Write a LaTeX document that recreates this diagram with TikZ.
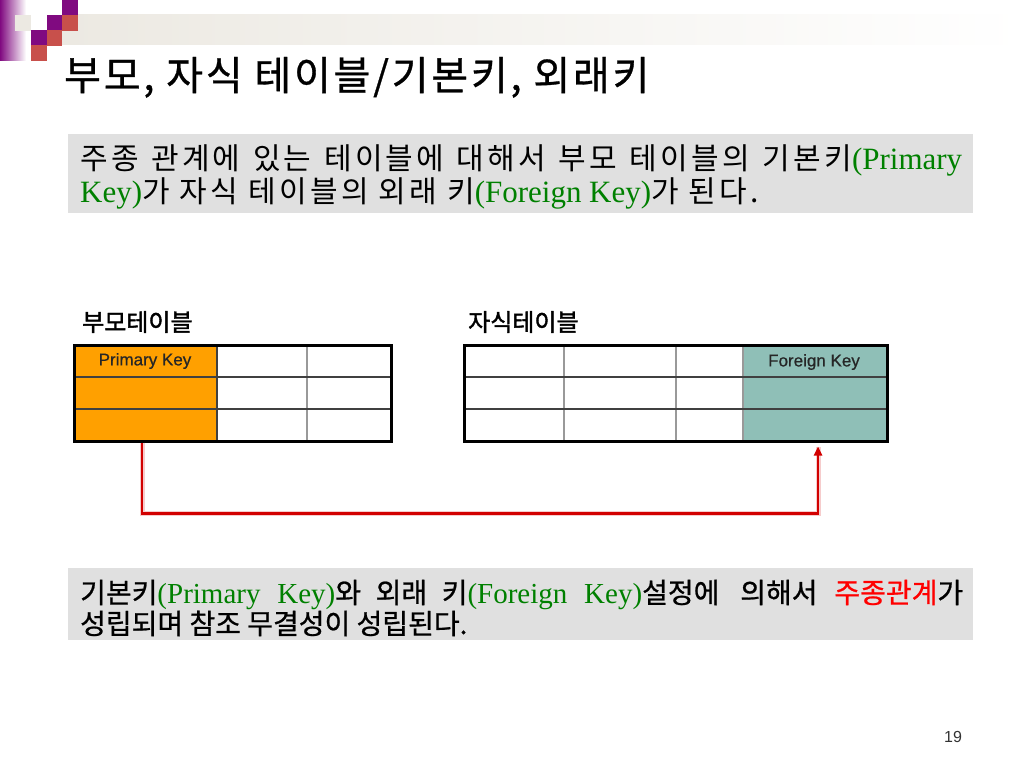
\documentclass[tikz,border=0pt]{standalone}
\usepackage{fontspec}
\setmainfont{Liberation Serif}
\newfontfamily\kr[LetterSpace=11]{Noto Sans CJK KR}
\newfontfamily\krm[FakeBold=0.8]{Noto Sans CJK KR}
\newfontfamily\krl[FakeBold=1.6]{Noto Sans CJK KR}
\newfontfamily\krt[LetterSpace=7,FakeBold=0.8]{Noto Sans CJK KR}
\newfontfamily\arialf{Liberation Sans}
\newfontfamily\arialb[FakeBold=0.6]{Liberation Sans}
\usetikzlibrary{arrows.meta}
\definecolor{decpurple}{RGB}{128,10,128}
\definecolor{decred}{RGB}{200,80,75}
\definecolor{decbeige}{RGB}{236,233,226}
\definecolor{boxgray}{RGB}{224,224,224}
\definecolor{tgreen}{RGB}{0,128,0}
\definecolor{tred}{RGB}{255,0,0}
\definecolor{pkorange}{RGB}{255,160,0}
\definecolor{fkteal}{RGB}{143,191,183}
\definecolor{linkred}{RGB}{210,0,0}
\definecolor{halo}{RGB}{240,170,170}
\newcommand\K[1]{{\kr\fontsize{30}{30}\selectfont #1}}
\newcommand\KB[1]{{\krm\fontsize{28}{28}\selectfont #1}}
\newcommand\G[1]{\textcolor{tgreen}{#1}}
\tikzset{
  textbox/.style={fill=boxgray, draw=none},
  outerline/.style={draw=black, line width=2.5pt},
  innerline/.style={draw=black!75, line width=1.2pt},
  vline/.style={draw=black!40, line width=1.8pt},
  tlabel/.style={anchor=base west, inner sep=0pt, font=\krl\fontsize{24}{24}\selectfont},
  celltext/.style={inner sep=0pt, font=\arialb\fontsize{17}{17}\selectfont, text=black!85},
  link/.style={draw=linkred, line width=2.6pt},
  linkhalo/.style={draw=halo, line width=5pt},
  sq/.style={minimum size=15.5pt, inner sep=0pt, draw=none}
}
\begin{document}
\begin{tikzpicture}[x=1pt,y=-1pt]
\useasboundingbox (0,0) rectangle (1024,768);
\fill[white] (0,0) rectangle (1024,768);
% top decoration
\shade[left color=decpurple, right color=white] (0,0) rectangle (26,60);
\shade[left color=decbeige, middle color=decbeige!60!white, right color=white] (62,15) rectangle (1024,45);
\node[sq, fill=decbeige, anchor=north west] (s0) at (15,15) {};
\node[sq, fill=decpurple, anchor=north west] (s1) at (62,0) {};
\node[sq, fill=decpurple, anchor=north west] (s2) at (46.5,15) {};
\node[sq, fill=decred, anchor=north west] (s3) at (62,15) {};
\node[sq, fill=decpurple, anchor=north west] (s4) at (31,30) {};
\node[sq, fill=decred, anchor=north west] (s5) at (46.5,30) {};
\node[sq, fill=decred, anchor=north west] (s6) at (31,45) {};
% title
\node[anchor=base west, inner sep=0pt, font=\krt\fontsize{40}{40}\selectfont] (title) at (64,90) {부모, 자식 테이블/기본키, 외래키};
% box 1
\fill[textbox] (68,134) rectangle (973,213);
\node[anchor=base west, inner sep=0pt, font=\fontsize{31}{31}\selectfont] (b1l1) at (80,169)
 {\makebox[882pt][s]{\K{주종 관계에 있는 테이블에 대해서 부모 테이블의 기본키}\G{(Primary}}};
\node[anchor=base west, inner sep=0pt, font=\fontsize{31}{31}\selectfont] (b1l2) at (80,202)
 {\G{Key)}\K{가 자식 테이블의 외래 키}\G{(Foreign Key)}\K{가 된다.}};
% parent table
\node[tlabel] (plabel) at (82,331) {부모테이블};
\fill[pkorange] (73,344) rectangle (217,440);
\fill[white] (217,344) rectangle (390,440);
\draw[vline] (307,344) -- (307,440);
\draw[innerline] (73,377) -- (390,377);
\draw[innerline] (73,409) -- (390,409);
\draw[innerline] (217,344) -- (217,440);
\node[outerline, minimum width=317pt, minimum height=96pt, inner sep=0pt, anchor=north west] (ptab) at (73,344) {};
\node[celltext] (pk) at (145,361) {Primary Key};
% child table
\node[tlabel] (clabel) at (468,331) {자식테이블};
\fill[white] (463,344) rectangle (743,440);
\fill[fkteal] (743,344) rectangle (886,440);
\draw[vline] (564,344) -- (564,440);
\draw[vline] (676,344) -- (676,440);
\draw[vline] (743,344) -- (743,440);
\draw[innerline] (463,377) -- (886,377);
\draw[innerline] (463,409) -- (886,409);
\node[outerline, minimum width=423pt, minimum height=96pt, inner sep=0pt, anchor=north west] (ctab) at (463,344) {};
\node[celltext] (fk) at (814,362) {Foreign Key};
% link
\coordinate (lstart) at ([xshift=69pt]ptab.south west);
\coordinate (lend) at ([xshift=355pt,yshift=-4pt]ctab.south west);
\draw[linkhalo, opacity=0.6] (lstart) -- ++(0,71) -| (lend);
\draw[link, -{Triangle[width=8pt,length=9pt]}] (lstart) -- ++(0,71) -| (lend);
% box 2
\fill[textbox] (68,568) rectangle (973,640);
\node[anchor=base west, inner sep=0pt, font=\fontsize{29}{29}\selectfont] (b2l1) at (80,603)
 {\makebox[883pt][s]{\KB{기본키}\G{(Primary Key)}\KB{와 외래 키}\G{(Foreign Key)}\KB{설정에}\hspace{4pt} \KB{의해서} \KB{\textcolor{tred}{주종관계}가}}};
\node[anchor=base west, inner sep=0pt, font=\fontsize{29}{29}\selectfont] (b2l2) at (80,634)
 {\KB{성립되며 참조 무결성이 성립된다.}};
% page number
\node[inner sep=0pt, font=\arialf\fontsize{16}{16}\selectfont, text=black!80] (pnum) at (953,737) {19};
\end{tikzpicture}
\end{document}
